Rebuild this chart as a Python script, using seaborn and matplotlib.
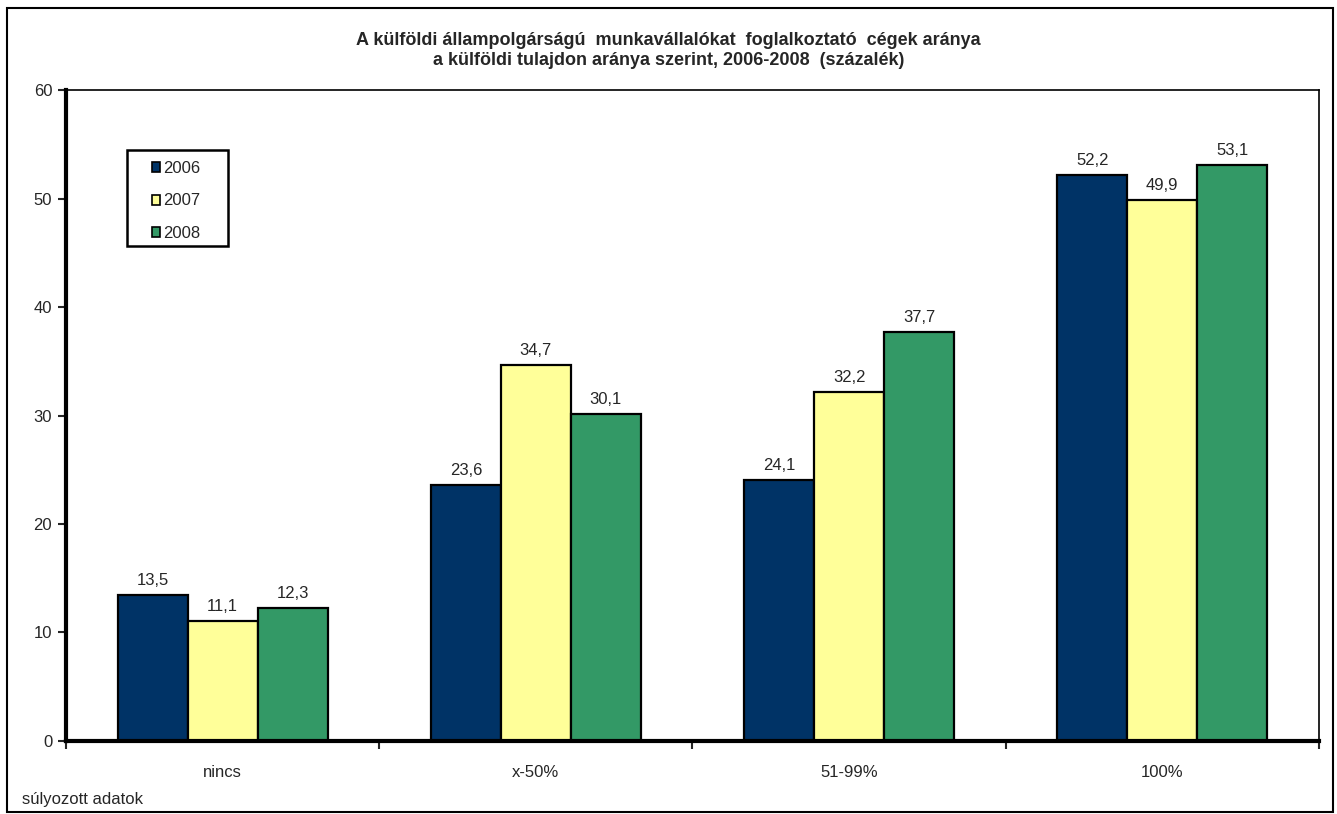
import pandas as pd
import matplotlib.pyplot as plt
import matplotlib.patches as mpatches
import seaborn as sns

categories = ['nincs', 'x-50%', '51-99%', '100%']
years = ['2006', '2007', '2008']
v2006 = [13.5, 23.6, 24.1, 52.2]
v2007 = [11.1, 34.7, 32.2, 49.9]
v2008 = [12.3, 30.1, 37.7, 53.1]
colors = ['#003366', '#FFFF99', '#339966']

title = ('A külföldi állampolgárságú  munkavállalókat  foglalkoztató  cégek aránya\n'
         'a külföldi tulajdon aránya szerint, 2006-2008  (százalék)')
note = 'súlyozott adatok'

df = pd.DataFrame({
    'kat': categories * 3,
    'ev': [y for y in years for _ in categories],
    'ertek': v2006 + v2007 + v2008,
})

sns.set_style('white')
plt.rcParams['font.family'] = ['Liberation Sans', 'DejaVu Sans']

fig = plt.figure(figsize=(13.37, 8.14), dpi=100)
ax = fig.add_axes([0.0494, 0.0897, 0.9371, 0.7997])

sns.barplot(data=df, x='kat', y='ertek', hue='ev', palette=colors,
            width=0.67, edgecolor='black', linewidth=1.6, ax=ax,
            legend=False, saturation=1)

for cont in ax.containers:
    ax.bar_label(cont, labels=[f'{v:.1f}'.replace('.', ',') for v in cont.datavalues],
                 padding=5, fontsize=12)

ax.set_ylim(0, 60)
ax.set_xlim(-0.5, 3.5)
ax.set_yticks(range(0, 61, 10))
ax.set_xlabel('')
ax.set_ylabel('')
ax.tick_params(axis='y', which='major', direction='out', length=6, width=1.5,
               left=True, labelsize=12, pad=4)
ax.tick_params(axis='x', which='major', length=0, labelsize=12, pad=17)
ax.set_xticks([-0.5, 0.5, 1.5, 2.5, 3.5], minor=True)
ax.tick_params(axis='x', which='minor', direction='out', length=6, width=1.5, bottom=True)

for side in ['left', 'bottom']:
    ax.spines[side].set_linewidth(3)
    ax.spines[side].set_color('black')
for side in ['top', 'right']:
    ax.spines[side].set_linewidth(1.2)
    ax.spines[side].set_color('black')

# legend box drawn separately, entries placed inside it
ax.add_patch(mpatches.Rectangle((0.0487, 0.760), 0.0806, 0.148, transform=ax.transAxes,
                                fill=True, facecolor='white', edgecolor='black',
                                linewidth=1.8, zorder=5))
handles = [mpatches.Patch(facecolor=c, edgecolor='black', linewidth=1.2) for c in colors]
leg = ax.legend(handles, years, loc='upper left', bbox_to_anchor=(0.0686, 0.891),
                fontsize=12, frameon=False, handlelength=0.5,
                handleheight=0.55, handletextpad=0.15, labelspacing=1.05,
                borderpad=0, borderaxespad=0)
leg.set_zorder(6)

fig.text(0.5, 0.938, title, ha='center', va='center', fontsize=13,
         fontweight='bold', linespacing=1.2)
fig.text(0.0165, 0.0172, note, ha='left', va='center', fontsize=12)

fig.add_artist(mpatches.Rectangle((0.0055, 0.002), 0.9915, 0.9885,
                                  transform=fig.transFigure, fill=False,
                                  edgecolor='black', linewidth=1.5))

fig.savefig('out.png', dpi=100)
